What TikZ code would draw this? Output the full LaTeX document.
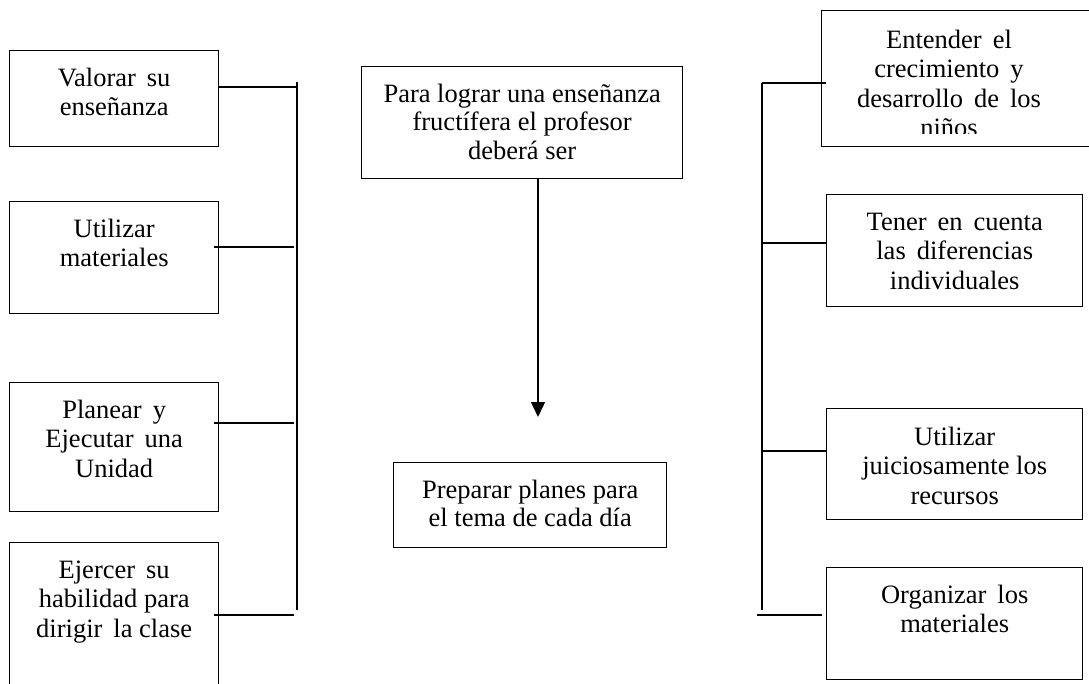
\documentclass[tikz,border=0pt]{standalone}
\usepackage{fontspec}
\setmainfont{Liberation Serif}
\usetikzlibrary{arrows.meta,calc}
\newcommand\wsp{\hspace{11pt}}
\begin{document}
\begin{tikzpicture}[x=1pt,y=-1pt]
\tikzset{
  box/.style={draw, rectangle, line width=1.4pt, inner sep=0pt, anchor=north west},
  txt/.style={align=center, inner sep=0pt, anchor=base, font=\fontsize{26.5}{29.5}\selectfont},
  ctxt/.style={txt, font=\fontsize{26.5}{28.5}\selectfont},
  conn/.style={line width=1.4pt},
  arr/.style={conn, -{Triangle[length=15pt,width=14pt]}}
}
\useasboundingbox (0,0) rectangle (1089,683);
% left boxes
\node[box, minimum width=209pt, minimum height=96pt]  (b1) at (9,50) {};
\node[box, minimum width=209pt, minimum height=112pt] (b2) at (9,201) {};
\node[box, minimum width=209pt, minimum height=129pt] (b3) at (9,382) {};
\node[box, minimum width=209pt, minimum height=160pt] (b4) at (9,542) {};
% (anchor base = baseline of the last line)
\node[txt] (t1) at ($(b1.north)+(0,65.5)$) {Valorar\wsp su\\enseñanza};
\node[txt] (t2) at ($(b2.north)+(0,65.5)$) {Utilizar\\materiales};
\node[txt] (t3) at ($(b3.north)+(0,95)$) {Planear\wsp y\\Ejecutar\wsp una\\Unidad};
\node[txt] (t4) at ($(b4.north)+(0,95)$) {Ejercer\wsp su\\habilidad para\\dirigir\wsp la clase};
% centre
\node[box, minimum width=321pt, minimum height=112pt] (c1) at (361,66) {};
\node[box, minimum width=273pt, minimum height=85pt]  (c2) at (393,462) {};
\node[ctxt] (tc1) at ($(c1.north)+(0,93)$) {Para lograr una enseñanza\\fructífera el profesor\\deberá ser};
\node[ctxt] (tc2) at ($(c2.north)+(0,64.5)$) {Preparar planes para\\el tema de cada día};
% right boxes
\node[box, minimum width=280pt, minimum height=136pt] (r1) at (821,10) {};
\node[box, minimum width=256pt, minimum height=112pt] (r2) at (826,194) {};
\node[box, minimum width=256pt, minimum height=111pt] (r3) at (826,408) {};
\node[box, minimum width=256pt, minimum height=112pt] (r4) at (826,567) {};
\begin{scope}
  \clip (821,10) rectangle (1089,133);
  \node[txt] (tr1) at (949,136.5) {Entender\wsp el\\crecimiento\wsp y\\desarrollo\wsp de\wsp los\\niños};
\end{scope}
\node[txt] (tr2) at ($(r2.north)+(0,95)$) {Tener\wsp en\wsp cuenta\\las\wsp diferencias\\individuales};
\node[txt] (tr3) at ($(r3.north)+(0,96)$) {Utilizar\\juiciosamente los\\recursos};
\node[txt] (tr4) at ($(r4.north)+(0,65.5)$) {Organizar\wsp los\\materiales};
% left bus
\coordinate (lt) at (297,82);
\coordinate (lb) at (297,610);
\coordinate (l1) at (297,87);
\coordinate (l2) at (294,247);
\coordinate (l3) at (294,423);
\coordinate (l4) at (294,615);
\draw[conn] (lt) -- (lb);
\draw[conn] (b1.east |- l1) -- (l1);
\draw[conn] ([xshift=-5pt]b2.east |- l2) -- (l2);
\draw[conn] ([xshift=-5pt]b3.east |- l3) -- (l3);
\draw[conn] ([xshift=-5pt]b4.east |- l4) -- (l4);
% right bus
\coordinate (rt) at (762,83);
\coordinate (rb) at (762,610);
\coordinate (q2) at (762,243);
\coordinate (q3) at (762,451);
\coordinate (q4) at (757,615);
\draw[conn] (rt) -- (rb);
\draw[conn] (rt) -- ([xshift=5pt]r1.west |- rt);
\draw[conn] (q2) -- (r2.west |- q2);
\draw[conn] (q3) -- (r3.west |- q3);
\draw[conn] (q4) -- ([xshift=-4pt]r4.west |- q4);
% arrow
\coordinate (atip) at (538,417);
\draw[arr] (c1.south -| atip) -- (atip);
\end{tikzpicture}
\end{document}
